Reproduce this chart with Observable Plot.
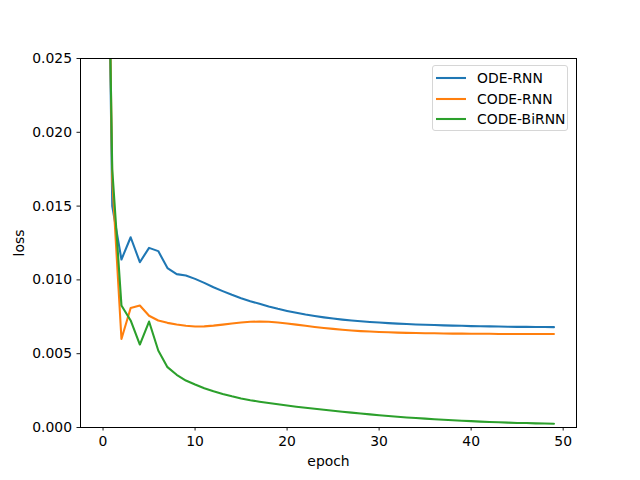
<!DOCTYPE html>
<html>
<head>
<meta charset="utf-8">
<script src="https://cdn.jsdelivr.net/npm/d3@7"></script>
<script src="https://cdn.jsdelivr.net/npm/@observablehq/plot@0.6"></script>
<style>
  body { margin: 0; background: #fff; font-family: "DejaVu Sans", sans-serif; }
  #wrap { position: relative; width: 640px; height: 480px; }
  #legend { position: absolute; left: 432px; top: 65px; width: 136px; height: 66px;
    border: 1px solid #d6d6d6; border-radius: 3px; background: rgba(255,255,255,0.8);
    box-sizing: border-box; font-size: 13.9px; color: #000; }
  .row { position: absolute; left: 3px; height: 18px; display: flex; align-items: center; }
  .row svg { margin-right: 11px; }
</style>
</head>
<body>
<div id="wrap"></div>
<script>
const epochs = d3.range(50);
const seriesNames = ["ODE-RNN", "CODE-RNN", "CODE-BiRNN"];
const seriesColors = ["#1f77b4", "#ff7f0e", "#2ca02c"];
const odeRnn = [0.0608, 0.0150, 0.01138, 0.01289, 0.0112, 0.01217, 0.01195, 0.0108, 0.01039, 0.0103,
  0.01007, 0.0098, 0.0095, 0.00924, 0.00899, 0.00876, 0.00856, 0.00838, 0.0082, 0.00804,
  0.0079, 0.00777, 0.00765, 0.00755, 0.00746, 0.00738, 0.00731, 0.00725, 0.0072, 0.00715,
  0.00711, 0.00707, 0.00704, 0.00701, 0.00698, 0.00696, 0.00694, 0.00692, 0.0069, 0.00689,
  0.00687, 0.00686, 0.00685, 0.00684, 0.00683, 0.00682, 0.00682, 0.00681, 0.00681, 0.0068];
const codeRnn = [0.0602, 0.0168, 0.0060, 0.0081, 0.00827, 0.00757, 0.00725, 0.00709, 0.00698, 0.00689,
  0.00684, 0.00685, 0.0069, 0.00697, 0.00705, 0.00711, 0.00716, 0.00718, 0.00716, 0.00711,
  0.00705, 0.00697, 0.00689, 0.00681, 0.00674, 0.00668, 0.00662, 0.00657, 0.00653, 0.0065,
  0.00647, 0.00645, 0.00643, 0.00641, 0.0064, 0.00639, 0.00638, 0.00637, 0.00636, 0.00636,
  0.00635, 0.00635, 0.00635, 0.00634, 0.00634, 0.00634, 0.00634, 0.00634, 0.00634, 0.00634];
const codeBiRnn = [0.0559, 0.0175, 0.00827, 0.00725, 0.00562, 0.00718, 0.00522, 0.00409, 0.00357, 0.00318,
  0.00291, 0.00266, 0.00245, 0.00227, 0.00211, 0.00197, 0.00185, 0.00175, 0.00166, 0.00157,
  0.00149, 0.00141, 0.00134, 0.00127, 0.0012, 0.00114, 0.00107, 0.00101, 0.00095, 0.00089,
  0.00083, 0.00078, 0.00073, 0.00068, 0.00064, 0.0006, 0.00056, 0.00052, 0.00049, 0.00046,
  0.00043, 0.0004, 0.00037, 0.00035, 0.00033, 0.00031, 0.0003, 0.00028, 0.00027, 0.00025];
const xTicks = [0, 10, 20, 30, 40, 50];
const yTicks = [0, 0.005, 0.01, 0.015, 0.02, 0.025];

const allSeries = [odeRnn, codeRnn, codeBiRnn];
const rows = [];
allSeries.forEach((vals, s) => vals.forEach((v, i) => rows.push({epoch: epochs[i], loss: v, series: seriesNames[s]})));

const plot = Plot.plot({
  width: 640, height: 480,
  marginLeft: 80, marginRight: 64, marginTop: 58, marginBottom: 53,
  style: {fontFamily: "DejaVu Sans, sans-serif", fontSize: "13.9px", color: "#000", background: "#fff"},
  x: {domain: [-2.45, 51.45]},
  y: {domain: [0, 0.025]},
  color: {domain: seriesNames, range: seriesColors},
  marks: [
    Plot.line(rows, {x: "epoch", y: "loss", z: "series", stroke: "series", strokeWidth: 2.08, clip: true}),
    Plot.frame({stroke: "#000", strokeWidth: 1}),
    Plot.axisX({ticks: xTicks, tickSize: 3.5, tickPadding: 5, label: "epoch", labelAnchor: "center", labelArrow: "none", labelOffset: 38, stroke: "#000", strokeWidth: 0.9}),
    Plot.axisY({ticks: yTicks, tickSize: 3.5, tickPadding: 5, tickFormat: d3.format(".3f"), label: "loss", labelAnchor: "center", labelArrow: "none", labelOffset: 66, stroke: "#000", strokeWidth: 0.9})
  ]
});
const wrap = document.getElementById("wrap");
wrap.appendChild(plot);

const legend = document.createElement("div");
legend.id = "legend";
seriesNames.forEach((name, i) => {
  const r = document.createElement("div");
  r.className = "row";
  r.style.top = (3 + i * 20.5) + "px";
  r.innerHTML = `<svg width="30" height="6"><line x1="0" x2="30" y1="3" y2="3" stroke="${seriesColors[i]}" stroke-width="2.08"/></svg><span>${name}</span>`;
  legend.appendChild(r);
});
wrap.appendChild(legend);
</script>
</body>
</html>
